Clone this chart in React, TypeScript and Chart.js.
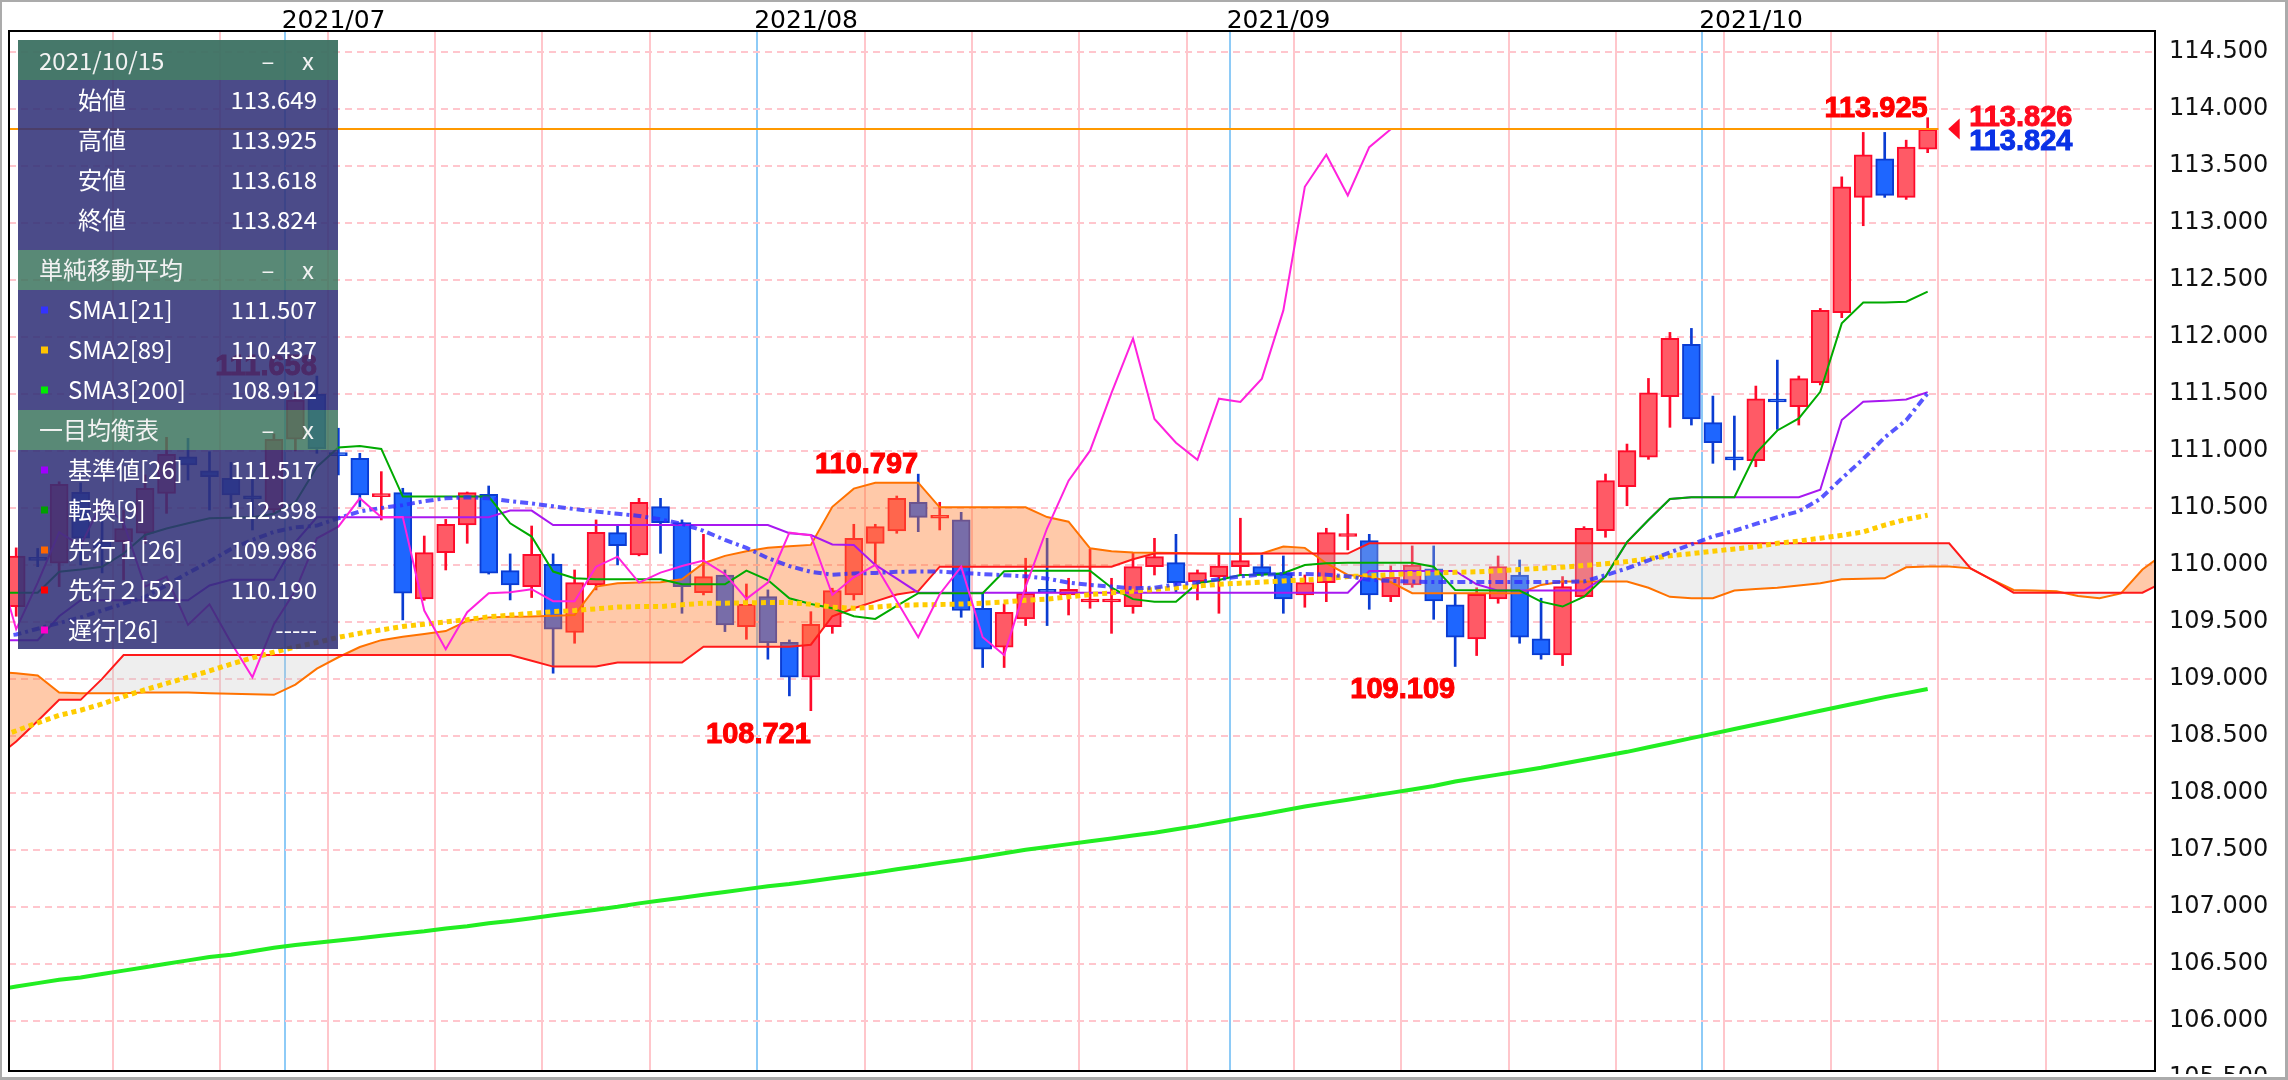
import React, { useEffect, useRef } from "react";
import { Chart, registerables } from "chart.js";

Chart.register(...registerables);

// ---------- candle data (index 0 = 2021/07/01, first candle = -13 = 2021/06/14) ----------
const CANDLE_START = -13;
const OPEN = [
  109.634, 110.06, 110.015, 110.637, 110.2, 110.205, 110.278, 110.628, 110.95, 110.825, 110.76, 110.59, 110.482,
  111.103, 111.5, 110.97, 110.936, 110.6, 110.635, 109.702, 110.108, 110.351, 110.62, 109.95, 109.81, 110.006,
  109.407, 109.825, 110.284, 110.088, 110.512, 110.371, 109.757, 109.912, 109.459, 109.722, 109.322, 109.015,
  109.459, 109.737, 110.19, 110.298, 110.55, 110.41, 110.395, 109.62, 109.278, 109.526, 109.775, 109.737,
  109.675, 109.675, 109.635, 109.985, 110.02, 109.854, 109.898, 109.985, 109.985, 109.927, 109.737, 109.845,
  110.25, 110.213, 109.722, 109.825, 109.965, 109.649, 109.351, 109.702, 109.912, 109.351, 109.21, 109.722,
  110.301, 110.687, 110.945, 111.476, 111.936, 111.249, 110.93, 110.915, 111.436, 111.389, 111.6, 112.214,
  113.226, 113.565, 113.226, 113.649,
];
const HIGH = [
  110.15, 110.145, 110.73, 110.72, 110.4, 110.482, 110.79, 111.12, 111.111, 110.994, 110.9, 110.76, 111.15,
  111.52, 111.658, 111.2, 110.98, 110.819, 110.673, 110.254, 110.4, 110.64, 110.693, 110.097, 110.342, 110.097,
  109.956, 110.395, 110.342, 110.585, 110.585, 110.395, 110.269, 109.956, 109.833, 109.781, 109.342, 109.59,
  109.796, 110.357, 110.357, 110.605, 110.797, 110.55, 110.462, 109.75, 109.658, 110.059, 110.234, 109.883,
  110.137, 109.883, 110.108, 110.234, 110.269, 109.956, 110.088, 110.41, 110.088, 110.079, 109.912, 110.322,
  110.445, 110.269, 109.991, 110.167, 110.167, 109.752, 109.8, 110.079, 110.044, 109.708, 109.898, 110.336,
  110.798, 111.061, 111.637, 112.041, 112.076, 111.482, 111.307, 111.57, 111.798, 111.658, 112.251, 113.406,
  113.796, 113.796, 113.728, 113.925,
];
const LOW = [
  109.55, 109.985, 109.81, 110.0, 109.93, 109.868, 110.19, 110.453, 110.745, 110.482, 110.5, 110.307, 110.45,
  111.0, 110.98, 110.79, 110.512, 110.395, 109.518, 109.69, 109.956, 110.19, 109.92, 109.693, 109.714, 109.05,
  109.313, 109.781, 110.0, 110.08, 110.102, 109.576, 109.737, 109.415, 109.348, 109.173, 108.851, 108.721,
  109.4, 109.693, 110.0, 110.278, 110.292, 110.307, 109.541, 109.1, 109.1, 109.468, 109.468, 109.561,
  109.62, 109.4, 109.576, 109.912, 109.766, 109.693, 109.576, 109.912, 109.915, 109.576, 109.629, 109.678,
  110.132, 109.611, 109.678, 109.804, 109.523, 109.109, 109.205, 109.664, 109.313, 109.173, 109.117, 109.72,
  110.243, 110.52, 110.927, 111.208, 111.228, 110.892, 110.833, 110.862, 111.19, 111.228, 111.58, 112.17,
  112.977, 113.226, 113.208, 113.618,
];
const CLOSE = [
  110.079, 110.04, 110.708, 110.234, 110.15, 110.32, 110.673, 110.97, 110.877, 110.775, 110.614, 110.58, 111.103,
  111.447, 111.02, 110.96, 110.614, 110.61, 109.752, 110.108, 110.357, 110.635, 109.927, 109.825, 110.094, 109.436,
  109.845, 110.287, 110.17, 110.55, 110.371, 109.81, 109.898, 109.474, 109.655, 109.319, 109.015, 109.48,
  109.775, 110.234, 110.336, 110.585, 110.418, 110.42, 109.6, 109.26, 109.585, 109.752, 109.76, 109.787,
  109.682, 109.682, 109.985, 110.073, 109.845, 109.933, 109.991, 110.038, 109.921, 109.702, 109.845, 110.284,
  110.26, 109.737, 109.892, 110.0, 109.684, 109.366, 109.743, 109.985, 109.366, 109.21, 109.81, 110.322,
  110.74, 111.003, 111.511, 111.988, 111.281, 111.073, 110.922, 111.459, 111.43, 111.635, 112.234, 113.319,
  113.6, 113.243, 113.667, 113.824,
];

// ---------- indicator lines, first value at index -14 ----------
const LINE_START = -14;
const SMA1 = [
  109.36, 109.39, 109.44, 109.49, 109.54, 109.6, 109.66, 109.72, 109.82, 109.93, 110.03, 110.14, 110.22, 110.29,
  110.33, 110.345, 110.41, 110.47, 110.5, 110.525, 110.56, 110.585, 110.594, 110.586, 110.56, 110.54, 110.515,
  110.49, 110.468, 110.45, 110.43, 110.4, 110.36, 110.3, 110.22, 110.15, 110.06, 109.99, 109.94, 109.915,
  109.925, 109.93, 109.94, 109.942, 109.942, 109.93, 109.92, 109.91, 109.9, 109.88, 109.845, 109.825, 109.81,
  109.795, 109.8, 109.83, 109.848, 109.875, 109.9, 109.915, 109.921, 109.921, 109.915, 109.9, 109.87, 109.86,
  109.854, 109.85, 109.85, 109.85, 109.85, 109.85, 109.85, 109.85, 109.855, 109.91, 109.97, 110.04, 110.11,
  110.18, 110.25, 110.3, 110.36, 110.42, 110.47, 110.58, 110.76, 110.93, 111.12, 111.27, 111.507,
];
const SMA2 = [
  108.48, 108.545, 108.615, 108.68, 108.725, 108.78, 108.845, 108.905, 108.96, 109.015, 109.07, 109.13, 109.185,
  109.235, 109.28, 109.32, 109.365, 109.4, 109.43, 109.46, 109.48, 109.5, 109.52, 109.545, 109.56, 109.575,
  109.59, 109.6, 109.615, 109.63, 109.635, 109.635, 109.65, 109.665, 109.665, 109.668, 109.67, 109.67, 109.655,
  109.63, 109.62, 109.63, 109.645, 109.65, 109.653, 109.657, 109.665, 109.675, 109.69, 109.7, 109.72, 109.74,
  109.755, 109.77, 109.785, 109.8, 109.815, 109.83, 109.84, 109.85, 109.86, 109.868, 109.88, 109.898, 109.905,
  109.915, 109.925, 109.93, 109.935, 109.94, 109.95, 109.96, 109.97, 109.98, 109.995, 110.01, 110.03, 110.055,
  110.08, 110.1, 110.12, 110.14, 110.16, 110.19, 110.21, 110.235, 110.26, 110.29, 110.35, 110.4, 110.437,
];
const SMA3 = [
  106.27, 106.3, 106.33, 106.36, 106.38, 106.41, 106.44, 106.47, 106.5, 106.53, 106.56, 106.58, 106.61, 106.64,
  106.665, 106.685, 106.705, 106.725, 106.745, 106.765, 106.785, 106.81, 106.83, 106.855, 106.875, 106.9,
  106.925, 106.95, 106.975, 107.0, 107.03, 107.055, 107.08, 107.105, 107.13, 107.155, 107.18, 107.2, 107.225,
  107.25, 107.275, 107.3, 107.33, 107.355, 107.385, 107.41, 107.44, 107.47, 107.5, 107.525, 107.55, 107.575,
  107.6, 107.625, 107.65, 107.68, 107.71, 107.745, 107.78, 107.81, 107.845, 107.88, 107.91, 107.94, 107.97,
  108.0, 108.03, 108.06, 108.1, 108.13, 108.16, 108.19, 108.22, 108.255, 108.29, 108.325, 108.36, 108.4, 108.44,
  108.48, 108.52, 108.56, 108.6, 108.64, 108.68, 108.72, 108.76, 108.8, 108.84, 108.875, 108.912,
];
const TENKAN = [
  109.757, 109.757, 109.757, 109.94, 109.96, 109.985, 110.1, 110.263, 110.32, 110.366, 110.41, 110.415, 110.418,
  110.45, 110.55, 110.86, 111.03, 111.044, 111.018, 110.6, 110.6, 110.6, 110.6, 110.6, 110.366, 110.249, 109.942,
  109.883, 109.874, 109.874, 109.874, 109.874, 109.83, 109.83, 109.83, 109.95, 109.868, 109.708, 109.658, 109.62,
  109.55, 109.526, 109.64, 109.752, 109.752, 109.752, 109.752, 109.945, 109.95, 109.95, 109.95, 109.95, 109.8,
  109.7, 109.678, 109.678, 109.839, 109.868, 109.912, 109.915, 109.927, 110.0, 110.015, 110.02, 110.02, 110.02,
  110.02, 109.985, 109.78, 109.778, 109.775, 109.775, 109.678, 109.635, 109.722, 109.898, 110.2, 110.395,
  110.579, 110.594, 110.594, 110.594, 110.98, 111.18, 111.286, 111.52, 112.12, 112.304, 112.304, 112.31, 112.398,
];
const KIJUN = [
  109.34, 109.34, 109.34, 109.55, 109.69, 109.69, 109.69, 109.69, 109.69, 109.69, 109.82, 109.87, 109.87, 109.87,
  110.2, 110.418, 110.418, 110.418, 110.418, 110.418, 110.418, 110.418, 110.418, 110.418, 110.477, 110.477,
  110.351, 110.351, 110.351, 110.351, 110.351, 110.351, 110.351, 110.351, 110.351, 110.351, 110.351, 110.278,
  110.263, 110.18, 110.176, 110.0, 109.88, 109.757, 109.757, 109.757, 109.757, 109.757, 109.757, 109.757,
  109.757, 109.757, 109.757, 109.757, 109.757, 109.757, 109.757, 109.757, 109.757, 109.757, 109.757, 109.757,
  109.757, 109.757, 109.947, 109.947, 109.947, 109.947, 109.947, 109.83, 109.775, 109.775, 109.775, 109.775,
  109.775, 109.898, 110.2, 110.395, 110.579, 110.594, 110.594, 110.594, 110.594, 110.594, 110.594, 110.66,
  111.272, 111.433, 111.44, 111.453, 111.517,
];
// leading spans, first value at index -14, last at 87
const SPAN1 = [
  109.06, 109.05, 109.03, 108.88, 108.875, 108.875, 108.875, 108.88, 108.88, 108.88, 108.875, 108.87, 108.865,
  108.86, 108.95, 109.09, 109.19, 109.28, 109.34, 109.37, 109.395, 109.42, 109.51, 109.54, 109.545, 109.547,
  109.555, 109.56, 109.81, 109.84, 109.845, 109.848, 109.874, 110.015, 110.08, 110.12, 110.15, 110.165, 110.176,
  110.51, 110.67, 110.722, 110.722, 110.722, 110.506, 110.506, 110.506, 110.506, 110.506, 110.42, 110.38,
  110.146, 110.12, 110.11, 110.108, 110.105, 110.1, 110.098, 110.097, 110.1, 110.161, 110.15, 110.015, 109.912,
  109.898, 109.85, 109.752, 109.752, 109.752, 109.752, 109.752, 109.752, 109.825, 109.854, 109.854, 109.854,
  109.854, 109.8, 109.72, 109.708, 109.708, 109.775, 109.79, 109.8, 109.82, 109.84, 109.874, 109.878, 109.883,
  109.979, 109.986, 109.986, 109.97, 109.87, 109.78, 109.775, 109.77, 109.728, 109.707, 109.75, 109.96, 110.1,
];
const SPAN2 = [
  108.3, 108.45, 108.63, 108.816, 108.816, 109.0, 109.21, 109.21, 109.21, 109.21, 109.21, 109.21, 109.21, 109.21,
  109.21, 109.21, 109.21, 109.21, 109.21, 109.21, 109.21, 109.21, 109.21, 109.21, 109.21, 109.16, 109.108,
  109.108, 109.108, 109.143, 109.143, 109.143, 109.143, 109.283, 109.283, 109.283, 109.283, 109.283, 109.3,
  109.55, 109.62, 109.68, 109.74, 109.77, 109.985, 109.985, 109.985, 109.985, 109.985, 109.985, 109.985,
  109.985, 109.985, 110.05, 110.1, 110.1, 110.1, 110.1, 110.1, 110.1, 110.1, 110.1, 110.1, 110.1, 110.19,
  110.19, 110.19, 110.19, 110.19, 110.19, 110.19, 110.19, 110.19, 110.19, 110.19, 110.19, 110.19, 110.19,
  110.19, 110.19, 110.19, 110.19, 110.19, 110.19, 110.19, 110.19, 110.19, 110.19, 110.19, 110.19, 110.19,
  110.19, 109.97, 109.87, 109.757, 109.757, 109.757, 109.757, 109.757, 109.757, 109.757, 109.85,
];
const CHIKOU_SHIFT = 25;

// ---------- axes / labels ----------
const WEEK_STARTS = [-8, -3, 2, 7, 12, 17, 27, 32, 37, 42, 47, 52, 57, 62, 67, 72, 77, 82];
const MONTH_STARTS = [0, 22, 44, 66];
const MONTH_LABELS = ["2021/07", "2021/08", "2021/09", "2021/10"];
const Y_TICKS = [105.5, 106, 106.5, 107, 107.5, 108, 108.5, 109, 109.5, 110, 110.5, 111, 111.5, 112, 112.5, 113, 113.5, 114, 114.5];
const PEAKS = [
  { at: 1, kind: "high" },
  { at: 24, kind: "low" },
  { at: 29, kind: "high" },
  { at: 54, kind: "low" },
  { at: 76, kind: "high" },
];
const ASK = 113.826;
const BID = 113.824;
const PANEL_DATE = "2021/10/15";
const OHLC_NAMES = ["始値", "高値", "安値", "終値"];
const SMA_HEADER = "単純移動平均";
const SMA_NAMES = ["SMA1[21]", "SMA2[89]", "SMA3[200]"];
const ICHI_HEADER = "一目均衡表";
const ICHI_NAMES = ["基準値[26]", "転換[9]", "先行１[26]", "先行２[52]", "遅行[26]"];

const C = {
  upFill: "#ff5a66",
  upLine: "#ff0a2a",
  dnFill: "#1e66ff",
  dnLine: "#0a3cd2",
  sma1: "rgba(45,45,255,0.8)",
  sma2: "#ffcc00",
  sma3: "#22ee22",
  kijun: "#a818f0",
  tenkan: "#00aa00",
  span1: "#ff7200",
  span2: "#ff1a1a",
  chikou: "#ff22dd",
};

const pts = (arr: number[], start: number) => arr.map((v, k) => ({ x: start + k, y: v }));

export default function App() {
  const ref = useRef<HTMLCanvasElement>(null);

  useEffect(() => {
    const canvas = ref.current!;
    const n = OPEN.length;
    const last = CANDLE_START + n - 1;
    const up = OPEN.map((o, k) => CLOSE[k] >= o);
    const bodies = OPEN.map((o, k) => ({ x: CANDLE_START + k, y: [o, CLOSE[k]] }));
    const wicks = OPEN.map((_, k) => ({ x: CANDLE_START + k, y: [LOW[k], HIGH[k]] }));
    const chikou: { x: number; y: number }[] = [];
    for (let j = LINE_START; j + CHIKOU_SHIFT <= last; j++) {
      chikou.push({ x: j, y: CLOSE[j + CHIKOU_SHIFT - CANDLE_START] });
    }
    const lastK = n - 1;
    const lineIdx = last - LINE_START;

    const line = (data: any, color: string, width: number, order: number, extra: any = {}) => ({
      type: "line",
      data,
      borderColor: color,
      borderWidth: width,
      pointRadius: 0,
      fill: false,
      tension: 0,
      order,
      ...extra,
    });

    const boldText = (ctx: any, text: string, x: number, y: number, color: string) => {
      ctx.fillStyle = color;
      ctx.strokeStyle = color;
      ctx.lineWidth = 1;
      ctx.fillText(text, x, y);
      ctx.strokeText(text, x, y);
    };

    const overlay = {
      id: "overlay",
      afterDatasetsDraw(chart: any) {
        const ctx = chart.ctx;
        const xs = chart.scales.x;
        const ys = chart.scales.y;
        const area = chart.chartArea;
        ctx.save();
        // current price line
        const yAsk = ys.getPixelForValue(ASK);
        ctx.strokeStyle = "#ff9900";
        ctx.lineWidth = 2;
        ctx.beginPath();
        ctx.moveTo(area.left, yAsk);
        ctx.lineTo(xs.getPixelForValue(last + 0.5), yAsk);
        ctx.stroke();
        // peak labels
        ctx.font = 'bold 29px "Liberation Sans"';
        ctx.textAlign = "right";
        ctx.textBaseline = "alphabetic";
        PEAKS.forEach((p) => {
          const k = p.at - CANDLE_START;
          const v = p.kind === "high" ? HIGH[k] : LOW[k];
          const x = xs.getPixelForValue(p.at);
          const y = ys.getPixelForValue(v);
          boldText(ctx, v.toFixed(3), x, p.kind === "high" ? y - 1 : y + 32, "#ff0000");
        });
        // price pointer
        const xLast = xs.getPixelForValue(last);
        ctx.fillStyle = "#ff0a1e";
        ctx.beginPath();
        ctx.moveTo(xLast + 20.5, yAsk);
        ctx.lineTo(xLast + 32, yAsk - 10.5);
        ctx.lineTo(xLast + 32, yAsk + 10.5);
        ctx.closePath();
        ctx.fill();
        ctx.textAlign = "left";
        boldText(ctx, ASK.toFixed(3), xLast + 41.5, yAsk - 3, "#ff0a1e");
        boldText(ctx, BID.toFixed(3), xLast + 41.5, yAsk + 21, "#0a32e6");
        ctx.restore();
      },
      afterDraw(chart: any) {
        const ctx = chart.ctx;
        const xs = chart.scales.x;
        const area = chart.chartArea;
        ctx.save();
        // month labels
        ctx.font = '25px "DejaVu Sans"';
        ctx.fillStyle = "#000";
        ctx.textAlign = "left";
        ctx.textBaseline = "alphabetic";
        MONTH_STARTS.forEach((m, i) => {
          ctx.fillText(MONTH_LABELS[i], xs.getPixelForValue(m - 0.5) - 3, 28);
        });
        // panel
        const L = 18;
        const W = 320;
        const R = 317;
        const navy = "rgba(48,48,120,0.87)";
        const head1 = "rgba(60,113,98,0.95)";
        const head2 = "rgba(62,118,96,0.86)";
        const box = (y0: number, y1: number, c: string) => {
          ctx.fillStyle = c;
          ctx.fillRect(L, y0, W, y1 - y0);
        };
        box(40, 80, head1);
        box(80, 250, navy);
        box(250, 290, head2);
        box(290, 410, navy);
        box(410, 450, head2);
        box(450, 649, navy);
        ctx.font = '24px "Noto Sans CJK JP"';
        ctx.textBaseline = "middle";
        const header = (text: string, y: number) => {
          ctx.fillStyle = "#f2f2f2";
          ctx.textAlign = "left";
          ctx.fillText(text, 39, y);
          ctx.textAlign = "center";
          ctx.fillText("–", 268, y);
          ctx.fillText("x", 308, y);
        };
        header(PANEL_DATE, 61);
        header(SMA_HEADER, 270);
        header(ICHI_HEADER, 430);
        const ohlcVals = [OPEN[lastK], HIGH[lastK], LOW[lastK], CLOSE[lastK]];
        OHLC_NAMES.forEach((name, i) => {
          const y = 100 + i * 40;
          ctx.fillStyle = "#ffffff";
          ctx.textAlign = "left";
          ctx.fillText(name, 78, y);
          ctx.textAlign = "right";
          ctx.fillText(ohlcVals[i].toFixed(3), R, y);
        });
        const row = (name: string, val: string, color: string, y: number) => {
          ctx.fillStyle = color;
          ctx.fillRect(41, y - 3.5, 7, 7);
          ctx.fillStyle = "#ffffff";
          ctx.textAlign = "left";
          ctx.fillText(name, 68, y);
          ctx.textAlign = "right";
          ctx.fillText(val, R, y);
        };
        const smaVals = [SMA1[lineIdx], SMA2[lineIdx], SMA3[lineIdx]];
        const smaCols = ["#3333ff", "#ffc400", "#00ee00"];
        SMA_NAMES.forEach((name, i) => row(name, smaVals[i].toFixed(3), smaCols[i], 310 + i * 40));
        const ichiVals = [
          KIJUN[lineIdx].toFixed(3),
          TENKAN[lineIdx].toFixed(3),
          SPAN1[lineIdx].toFixed(3),
          SPAN2[lineIdx].toFixed(3),
          "-----",
        ];
        const ichiCols = ["#a000ff", "#00a000", "#ff6600", "#ff0000", "#ff00cc"];
        ICHI_NAMES.forEach((name, i) => row(name, ichiVals[i], ichiCols[i], 470 + i * 40));
        // frame
        ctx.strokeStyle = "#000";
        ctx.lineWidth = 2;
        ctx.strokeRect(area.left, area.top, area.right - area.left, area.bottom - area.top);
        ctx.restore();
      },
    };

    const chart = new Chart(canvas, {
      type: "line",
      data: {
        datasets: [
          {
            type: "bar",
            data: wicks,
            backgroundColor: up.map((u) => (u ? C.upLine : C.dnLine)),
            borderWidth: 0,
            barThickness: 2,
            grouped: false,
            order: 20,
          },
          {
            type: "bar",
            data: bodies,
            backgroundColor: up.map((u) => (u ? C.upFill : C.dnFill)),
            borderColor: up.map((u) => (u ? C.upLine : C.dnLine)),
            borderWidth: 2,
            borderSkipped: false,
            barThickness: 18,
            minBarLength: 3,
            grouped: false,
            order: 19,
          },
          line(pts(SPAN1, LINE_START), C.span1, 2, 10, {
            fill: { target: "+1", above: "rgba(255,120,40,0.4)", below: "rgba(200,200,200,0.3)" },
          }),
          line(pts(SPAN2, LINE_START), C.span2, 2, 9),
          line(pts(SMA3, LINE_START), C.sma3, 4, 8),
          line(pts(KIJUN, LINE_START), C.kijun, 2, 7),
          line(pts(TENKAN, LINE_START), C.tenkan, 2, 6),
          line(pts(SMA2, LINE_START), C.sma2, 5, 5, { borderDash: [5, 4], borderCapStyle: "butt" }),
          line(pts(SMA1, LINE_START), C.sma1, 4, 4, { borderDash: [8, 4, 3, 4], borderCapStyle: "butt" }),
          line(chikou, C.chikou, 2, 3),
        ] as any,
      },
      options: {
        responsive: false,
        maintainAspectRatio: false,
        animation: false,
        events: [],
        layout: { padding: { left: 9, right: 0, top: 0, bottom: 3 } },
        plugins: { legend: { display: false }, tooltip: { enabled: false } },
        scales: {
          x: {
            type: "linear",
            position: "top",
            min: -13.335,
            max: 86.585,
            offset: false,
            afterFit: (s: any) => {
              s.height = 31;
              s.paddingLeft = 0;
              s.paddingRight = 0;
            },
            afterBuildTicks: (s: any) => {
              s.ticks = [...WEEK_STARTS, ...MONTH_STARTS]
                .sort((a, b) => a - b)
                .map((i) => ({ value: i - 0.5 }));
            },
            ticks: { display: false },
            grid: {
              drawTicks: false,
              lineWidth: 2,
              offset: false,
              color: (ctx: any) =>
                ctx.tick && MONTH_STARTS.includes(ctx.tick.value + 0.5) ? "#8ecbf7" : "#ffc6cb",
            },
            border: { display: false },
          },
          y: {
            type: "linear",
            position: "right",
            min: 105.559,
            max: 114.686,
            afterFit: (s: any) => {
              s.width = 133;
              s.paddingTop = 0;
              s.paddingBottom = 0;
            },
            afterBuildTicks: (s: any) => {
              s.ticks = Y_TICKS.map((v) => ({ value: v }));
            },
            ticks: {
              autoSkip: false,
              padding: 14,
              color: "#111",
              font: { family: "DejaVu Sans", size: 24 },
              callback: (v: any) => Number(v).toFixed(3),
            },
            grid: { drawTicks: false, lineWidth: 2, color: "#ffc6cd" },
            border: { display: false, dash: [7, 5] },
          },
        },
      } as any,
      plugins: [overlay],
    });
    return () => chart.destroy();
  }, []);

  return (
    <div style={{ position: "absolute", left: 0, top: 0, width: 2288, height: 1080, background: "#fff" }}>
      <canvas
        ref={ref}
        width={2288}
        height={1074}
        style={{ position: "absolute", left: 0, top: 0, width: 2288, height: 1074 }}
      />
      <div
        style={{
          position: "absolute",
          left: 0,
          top: 0,
          width: 2288,
          height: 1080,
          boxSizing: "border-box",
          borderStyle: "solid",
          borderColor: "#ababab",
          borderWidth: "2px 3px 3px 2px",
          pointerEvents: "none",
        }}
      />
    </div>
  );
}
